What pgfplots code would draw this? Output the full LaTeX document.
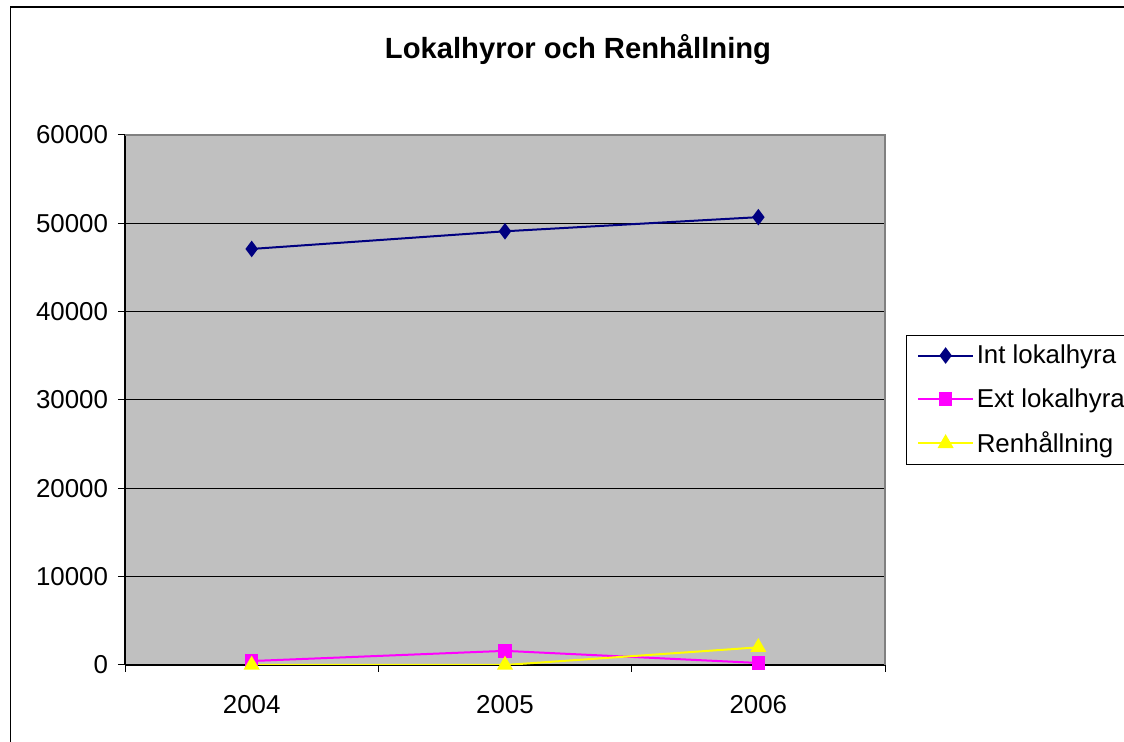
\documentclass[border=0pt]{standalone}
\usepackage{fontspec}
\setmainfont{Liberation Sans}
\usepackage{pgfplots}
\pgfplotsset{compat=1.18}
\definecolor{plotgray}{RGB}{192,192,192}
\definecolor{xlnavy}{RGB}{0,0,128}
\definecolor{xlpink}{RGB}{255,0,255}
\definecolor{xlyellow}{RGB}{255,255,0}

\begin{document}
\begin{tikzpicture}
\useasboundingbox (0pt,0pt) rectangle (843pt,556.5pt);
\clip (0pt,0pt) rectangle (843pt,556.5pt);
\draw[line width=1.4pt] (7.9pt,-5pt) -- (7.9pt,551.2pt) -- (850pt,551.2pt);
\node[font=\fontsize{21.9}{24}\selectfont\bfseries] at (433.5pt,519pt) {Lokalhyror och Renhållning};
\begin{scope}[overlay]
\begin{axis}[
    at={(93.75pt,57.75pt)}, anchor=south west,
    scale only axis,
    width=570pt, height=397.5pt,
    xmin=-0.5, xmax=2.5,
    ymin=0, ymax=60000,
    xtick={0,1,2},
    xticklabels={2004,2005,2006},
    minor xtick={-0.5,0.5,1.5,2.5},
    ytick={0,10000,...,60000},
    scaled y ticks=false,
    /pgf/number format/.cd, 1000 sep={}, assume math mode=true,
    /pgfplots/.cd,
    axis lines*=left,
    axis line style={-, black, line width=0.9pt},
    axis background/.style={fill=plotgray},
    tick align=outside,
    major tick length=5.25pt,
    minor tick length=5.25pt,
    major x tick style={draw=none},
    minor x tick style={black, line width=0.75pt},
    major y tick style={black, line width=0.75pt},
    ymajorgrids,
    grid style={black, line width=0.75pt},
    ticklabel style={font=\fontsize{19.4}{21}\selectfont},
    xticklabel style={yshift=-14pt},
    yticklabel style={xshift=-4pt},
    legend style={
        at={(1.0276,0.5)}, anchor=west,
        draw=black, fill=white, line width=0.75pt,
        font=\fontsize{19.4}{21}\selectfont,
        inner xsep=8pt, inner ysep=5.5pt,
        row sep=13pt,
        legend cell align=left,
    },
    legend image code/.code={
        \draw[mark repeat=2,mark phase=2] plot coordinates {(0pt,0pt) (20.6pt,0pt) (41.2pt,0pt)};
    },
    after end axis/.code={
        \draw[gray, line width=0.9pt] (rel axis cs:0,1) -- (rel axis cs:1,1) -- (rel axis cs:1,0);
    },
]
\addplot[xlnavy, line width=1.5pt, mark=diamond*, mark size=5pt, mark options={fill=xlnavy, draw=xlnavy}]
    coordinates {(0,47100) (1,49100) (2,50700)};
\addlegendentry{Int lokalhyra}
\addplot[xlpink, line width=1.5pt, mark=square*, mark size=4.3pt, mark options={fill=xlpink, draw=xlpink}]
    coordinates {(0,450) (1,1600) (2,230)};
\addlegendentry{Ext lokalhyra}
\addplot[xlyellow, line width=1.5pt, mark=triangle*, mark size=5.5pt, mark options={fill=xlyellow, draw=xlyellow}]
    coordinates {(0,0) (1,0) (2,2000)};
\addlegendentry{Renhållning}
\end{axis}
\end{scope}
\end{tikzpicture}
\end{document}
